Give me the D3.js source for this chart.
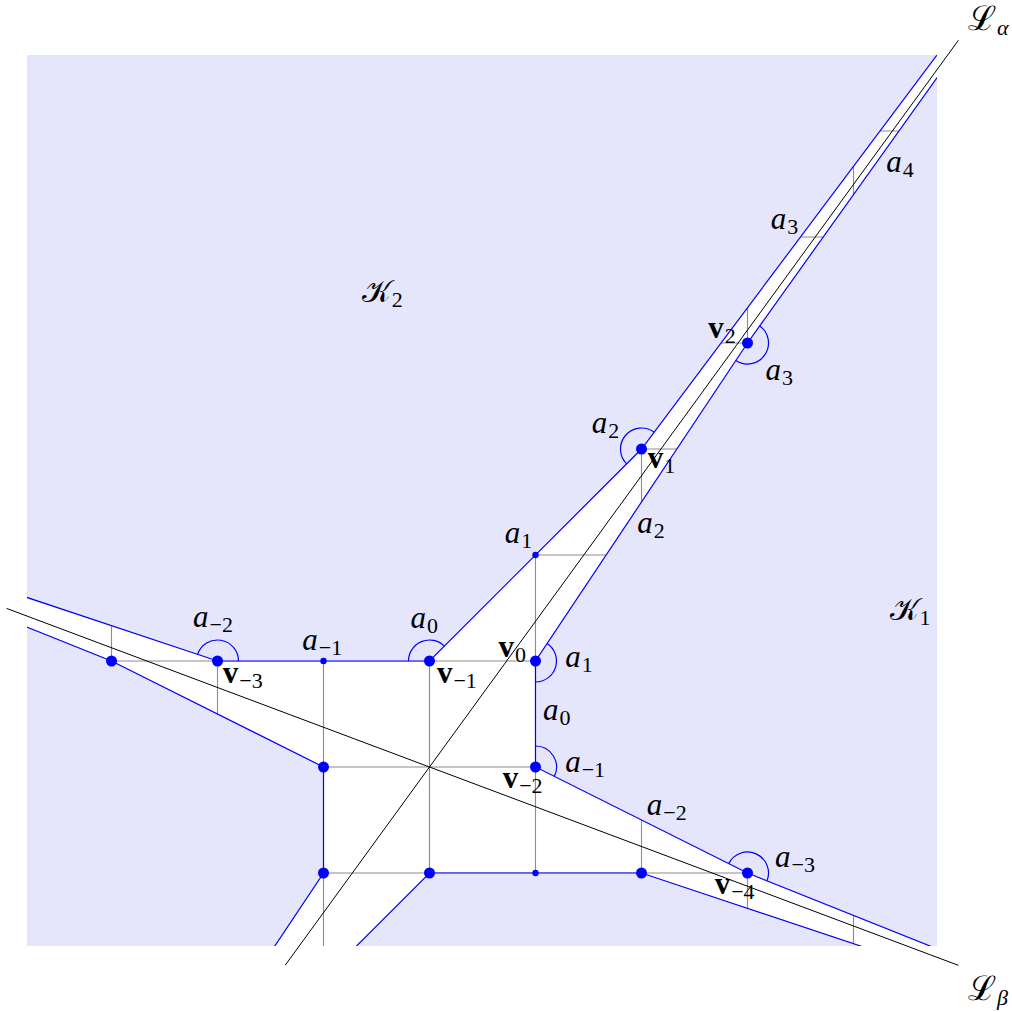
<!DOCTYPE html>
<html>
<head>
<meta charset="utf-8">
<script src="https://cdn.jsdelivr.net/npm/d3@7"></script>
<style>
body { margin: 0; background: #fff; }
text { font-family: "Liberation Serif", "DejaVu Serif", serif; }
</style>
</head>
<body>
<svg id="chart" width="1012" height="1012"></svg>
<script>
// sails (vertices of the convex hulls of lattice points in each cone)
var sailK1 = [[8,-3],[3,-1],[1,0],[1,1],[3,4],[8,11]];
var sailK2 = [[-5,2],[-2,1],[0,1],[2,3],[5,7]];
var bigDots = [[3,-1],[1,0],[1,1],[3,4],[-2,1],[0,1],[2,3],[-3,1],[-1,0],[-1,-1],[0,-1],[2,-1]];
var smallDots = [[-1,1],[1,2],[1,-1]];
var gridX = [-3,-2,-1,0,1,2,3,4];
var gridY = [-1,0,1,2,3,4,5,6];
var slopeAlpha = 1.374, slopeBeta = -0.375;
var alphaRange = [-1.36, 4.99], betaRange = [-3.99, 4.99];

// angle arcs: vertex, previous and next vertex of its sail
var arcs = [
	[[3,-1],[1,0],[8,-3]],
	[[-2,1],[-5,2],[0,1]],
	[[1,0],[3,-1],[1,1]],
	[[0,1],[-2,1],[2,3]],
	[[1,1],[1,0],[3,4]],
	[[2,3],[0,1],[5,7]],
	[[3,4],[1,1],[8,11]]
];

// labels: kind, subscript, anchor (left baseline, in lattice coords)
var labels = [
	["L","α",[5.08,6.95]], ["L","β",[5.08,-2.20]],
	["K","2",[-0.64,4.39]], ["K","1",[4.34,1.39]],
	["a","4",[4.31,5.61]], ["a","3",[3.22,5.08]], ["a","3",[3.17,3.65]],
	["v","2",[2.63,4.05]], ["a","2",[1.53,3.15]], ["v","1",[2.06,2.82]],
	["a","2",[1.96,2.21]], ["a","1",[0.71,2.11]], ["a","1",[1.28,0.94]],
	["a","0",[-0.18,1.31]], ["v","0",[0.65,1.04]], ["v","−1",[0.07,0.79]],
	["a","−1",[-1.20,1.10]], ["a","−2",[-2.23,1.32]], ["v","−3",[-1.95,0.79]],
	["a","0",[1.07,0.44]], ["a","−1",[1.28,-0.05]], ["v","−2",[0.69,-0.20]],
	["a","−2",[2.05,-0.45]], ["a","−3",[3.26,-0.94]], ["v","−4",[2.69,-1.20]]
];

var unit = 106, ox = 429.5, oy = 767;
var frame = {x0: 27, x1: 937, y0: 55, y1: 946};

var x = d3.scaleLinear().domain([0, 1]).range([ox, ox + unit]);
var y = d3.scaleLinear().domain([0, 1]).range([oy, oy - unit]);

var svg = d3.select("#chart");

svg.append("defs").append("clipPath").attr("id", "frame")
	.append("rect")
		.attr("x", frame.x0).attr("y", frame.y0)
		.attr("width", frame.x1 - frame.x0).attr("height", frame.y1 - frame.y0);

var neg = function(s) { return s.map(function(p) { return [-p[0], -p[1]]; }); };
var sails = [sailK1, sailK2, neg(sailK1), neg(sailK2)];

// hull polygon: sail extended far along its end edges
function hull(s) {
	var a = s[0], b = s[1], c = s[s.length - 1], d = s[s.length - 2];
	var k = 40;
	var p0 = [a[0] + k * (a[0] - b[0]), a[1] + k * (a[1] - b[1])];
	var p1 = [c[0] + k * (c[0] - d[0]), c[1] + k * (c[1] - d[1])];
	var mid = [(a[0] + c[0]) / 2, (a[1] + c[1]) / 2];
	var far = [(p0[0] + p1[0]) - mid[0], (p0[1] + p1[1]) - mid[1]];
	return [p0].concat(s, [p1, far]);
}

var line = d3.line().x(function(d) { return x(d[0]); }).y(function(d) { return y(d[1]); });

var g = svg.append("g").attr("clip-path", "url(#frame)");

// lattice grid (only visible inside the white region)
g.selectAll(".gx").data(gridX).enter().append("line")
	.attr("x1", function(d) { return x(d); }).attr("x2", function(d) { return x(d); })
	.attr("y1", frame.y0).attr("y2", frame.y1)
	.attr("stroke", "#8c8c8c").attr("stroke-width", 1.1);
g.selectAll(".gy").data(gridY).enter().append("line")
	.attr("y1", function(d) { return y(d); }).attr("y2", function(d) { return y(d); })
	.attr("x1", frame.x0).attr("x2", frame.x1)
	.attr("stroke", "#8c8c8c").attr("stroke-width", 1.1);

g.selectAll(".hull").data(sails).enter().append("path")
	.attr("d", function(d) { return line(hull(d)) + "Z"; })
	.attr("fill", "#e5e5fc");

g.selectAll(".sail").data(sails).enter().append("path")
	.attr("d", line)
	.attr("fill", "none").attr("stroke", "#0000ff").attr("stroke-width", 1.2);

// the two eigen lines
var lines = [[slopeAlpha, alphaRange], [slopeBeta, betaRange]];
svg.selectAll(".eig").data(lines).enter().append("path")
	.attr("d", function(d) {
		return line(d[1].map(function(t) { return [t, d[0] * t]; }));
	})
	.attr("fill", "none").attr("stroke", "#000").attr("stroke-width", 1);

// angle arcs
svg.selectAll(".arc").data(arcs).enter().append("path")
	.attr("d", function(d) {
		var v = d[0], cx = x(v[0]), cy = y(v[1]);
		var a0 = Math.atan2(y(d[1][1]) - cy, x(d[1][0]) - cx);
		var a1 = Math.atan2(y(d[2][1]) - cy, x(d[2][0]) - cx);
		var diff = a1 - a0;
		while (diff > Math.PI) diff -= 2 * Math.PI;
		while (diff <= -Math.PI) diff += 2 * Math.PI;
		var p = d3.path();
		p.moveTo(cx + 21 * Math.cos(a0), cy + 21 * Math.sin(a0));
		p.arc(cx, cy, 21, a0, a0 + diff, diff < 0);
		return p.toString();
	})
	.attr("fill", "none").attr("stroke", "#0000ff").attr("stroke-width", 1.2);

svg.selectAll(".big").data(bigDots).enter().append("circle")
	.attr("cx", function(d) { return x(d[0]); }).attr("cy", function(d) { return y(d[1]); })
	.attr("r", 5.5).attr("fill", "#0000ff");
svg.selectAll(".small").data(smallDots).enter().append("circle")
	.attr("cx", function(d) { return x(d[0]); }).attr("cy", function(d) { return y(d[1]); })
	.attr("r", 3.2).attr("fill", "#0000ff");

// labels
var glyph = {a: "a", v: "v", K: "𝒦", L: "ℒ"};
var t = svg.selectAll(".lab").data(labels).enter().append("text")
	.attr("x", function(d) { return x(d[2][0]); })
	.attr("y", function(d) { return y(d[2][1]); })
	.attr("font-size", function(d) { return d[0] == "L" ? 34 : 31; });
t.append("tspan")
	.text(function(d) { return glyph[d[0]]; })
	.attr("font-style", function(d) { return d[0] == "a" ? "italic" : "normal"; })
	.attr("font-weight", function(d) { return d[0] == "v" ? "bold" : "normal"; });
t.append("tspan")
	.text(function(d) { return d[1]; })
	.attr("font-size", 22)
	.attr("dy", 5)
	.attr("dx", 1)
	.attr("font-style", function(d) { return d[0] == "L" ? "italic" : "normal"; });
</script>
</body>
</html>
